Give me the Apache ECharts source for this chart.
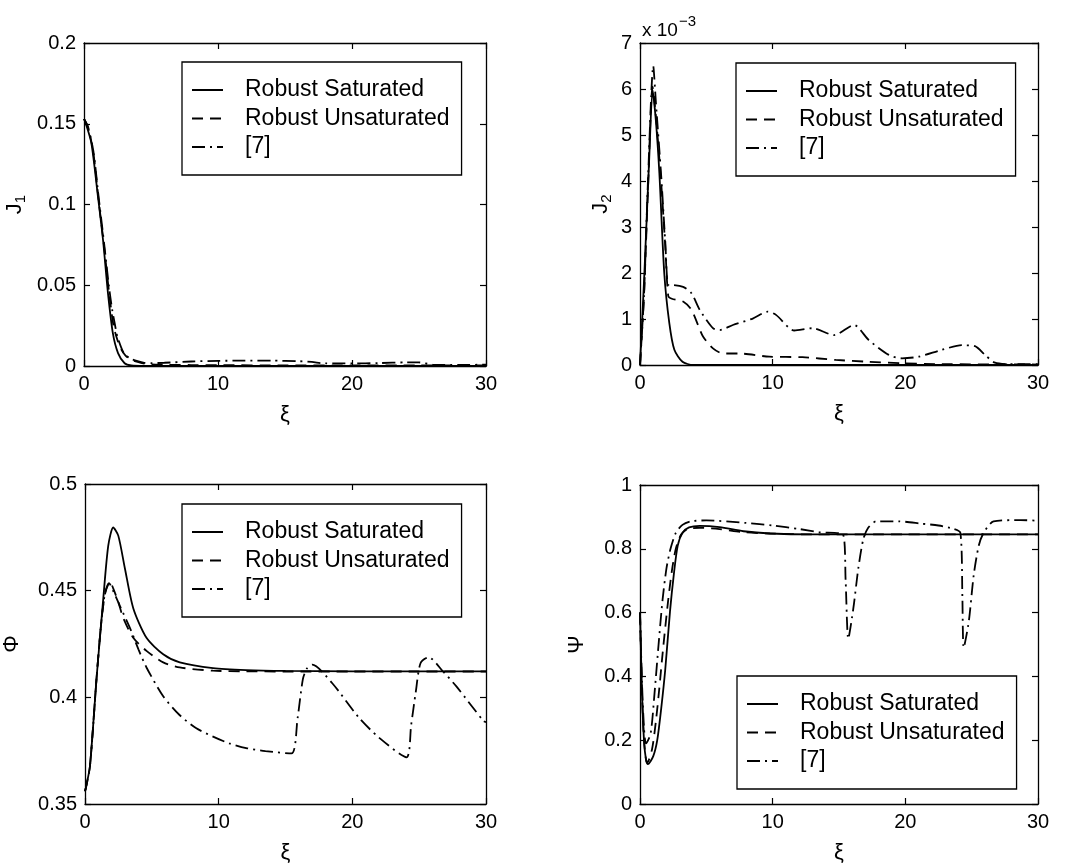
<!DOCTYPE html>
<html>
<head>
<meta charset="utf-8">
<script src="https://cdn.jsdelivr.net/npm/echarts@6/dist/echarts.min.js"></script>
<style>
  html, body { margin: 0; padding: 0; background: #fff; }
  #chart { width: 1067px; height: 865px; }
</style>
</head>
<body>
<div id="chart"></div>
<script>
// ---- series names ----
const seriesNames = ['Robust Saturated', 'Robust Unsaturated', '[7]'];

// ---- axis ticks ----
const xiTicks = [0, 10, 20, 30];
const j1Ticks = [0, 0.05, 0.1, 0.15, 0.2];
const j2Ticks = [0, 1, 2, 3, 4, 5, 6, 7];      // in units of 1e-3
const phiTicks = [0.35, 0.4, 0.45, 0.5];
const psiTicks = [0, 0.2, 0.4, 0.6, 0.8, 1];

// ---- J1 ----
const j1SatX = [0, 0.1, 0.55, 1.04, 1.42, 1.79, 2.16, 2.54, 3.03, 3.53, 4.5, 10, 20, 30];
const j1SatY = [0.153, 0.151, 0.138, 0.105, 0.078, 0.045, 0.020, 0.008, 0.0017, 0.0003, 0, 0, 0, 0];
const j1UnsatX = [0, 0.3, 0.7, 1.1, 1.5, 1.85, 2.2, 2.5, 2.8, 3.1, 3.5, 4.0, 4.5, 5, 6, 8, 10, 15, 20, 25, 30];
const j1UnsatY = [0.153, 0.148, 0.132, 0.102, 0.074, 0.047, 0.025, 0.016, 0.010, 0.0065, 0.004, 0.0025, 0.0015, 0.001, 0.0008, 0.0006, 0.0005, 0.0004, 0.0003, 0.0003, 0.0003];
const j1RefX = [0, 0.3, 0.7, 1.1, 1.5, 1.85, 2.1, 2.3, 2.5, 3.0, 3.5, 4.0, 4.5, 5, 6, 8, 10, 12, 14, 16, 17, 18, 20, 22, 24, 25, 26, 28, 30];
const j1RefY = [0.153, 0.148, 0.133, 0.104, 0.076, 0.050, 0.035, 0.026, 0.018, 0.0075, 0.0045, 0.003, 0.002, 0.0018, 0.002, 0.0028, 0.0032, 0.0033, 0.0033, 0.003, 0.0025, 0.0016, 0.0016, 0.0018, 0.0022, 0.0022, 0.0009, 0.0007, 0.0008];

// ---- J2 (x 1e-3) ----
const j2SatX = [0, 0.33, 0.7, 0.95, 1.2, 1.46, 1.83, 2.21, 2.59, 3.2, 4.0, 10, 20, 30];
const j2SatY = [0, 1.99, 4.53, 5.98, 5.3, 4.17, 1.99, 0.91, 0.33, 0.07, 0, 0, 0, 0];
const j2UnsatX = [0, 0.3, 0.6, 0.95, 1.2, 1.6, 1.9, 2.13, 2.4, 3.25, 3.88, 4.4, 4.75, 5.5, 6.25, 7.5, 9.75, 12.25, 14.75, 17.25, 19.75, 22.25, 30];
const j2UnsatY = [0, 1.5, 3.8, 6.05, 5.4, 3.95, 2.6, 1.5, 1.44, 1.38, 1.2, 0.85, 0.62, 0.36, 0.25, 0.25, 0.18, 0.17, 0.11, 0.07, 0.04, 0.02, 0.01];
const j2RefX = [0, 0.3, 0.6, 1.0, 1.2, 1.6, 1.9, 2.13, 2.4, 3.25, 3.88, 4.5, 5.5, 6.0, 7.0, 8.5, 9.63, 10.25, 11.63, 13.0, 14.63, 16.13, 17.25, 18.75, 19.75, 21.0, 22.75, 24.25, 25.25, 26.0, 26.75, 27.75, 30];
const j2RefY = [0, 1.5, 4.0, 6.5, 5.7, 4.1, 2.7, 1.74, 1.74, 1.70, 1.56, 1.20, 0.80, 0.76, 0.87, 1.01, 1.16, 1.09, 0.75, 0.80, 0.65, 0.87, 0.54, 0.22, 0.145, 0.18, 0.33, 0.43, 0.41, 0.22, 0.05, 0.02, 0.02];

// ---- Phi ----
const phiSatX = [0, 0.07, 0.37, 0.87, 1.37, 1.74, 2.11, 2.49, 2.99, 3.61, 4.6, 5.85, 7.09, 9.58, 12.06, 15, 20, 25, 30];
const phiSatY = [0.356, 0.3577, 0.3677, 0.4094, 0.4465, 0.4711, 0.4796, 0.4758, 0.4603, 0.4418, 0.4279, 0.4202, 0.4164, 0.4137, 0.4128, 0.4124, 0.4122, 0.4122, 0.4122];
const phiUnsatX = [0, 0.07, 0.37, 0.87, 1.2, 1.5, 1.87, 2.11, 2.5, 2.86, 3.61, 4.6, 5.85, 7.09, 9.58, 12, 15, 20, 25, 30];
const phiUnsatY = [0.356, 0.3577, 0.3677, 0.4094, 0.434, 0.4485, 0.4542, 0.4511, 0.4445, 0.4372, 0.4279, 0.4218, 0.4164, 0.414, 0.4125, 0.4122, 0.4121, 0.4121, 0.4121, 0.4121];
const phiRefX = [0, 0.07, 0.37, 0.87, 1.2, 1.5, 1.8, 2.1, 2.6, 3.36, 4.0, 4.6, 5.85, 7.09, 8.3, 9.58, 10.8, 12.06, 13.5, 15.45, 15.9, 16.3, 16.6, 17.0, 18.5, 20.5, 22.0, 24.05, 24.4, 24.75, 25.1, 25.7, 26.8, 27.8, 29.8, 30];
const phiRefY = [0.356, 0.3577, 0.3677, 0.4094, 0.434, 0.449, 0.4535, 0.450, 0.443, 0.4326, 0.4225, 0.414, 0.4005, 0.3916, 0.3856, 0.3816, 0.3784, 0.3762, 0.3748, 0.3737, 0.390, 0.4085, 0.4135, 0.4153, 0.4066, 0.3904, 0.3811, 0.3719, 0.387, 0.4027, 0.416, 0.4188, 0.412, 0.405, 0.389, 0.3884];

// ---- Psi ----
const psiSatX = [0, 0.15, 0.3, 0.45, 0.6, 1.0, 1.3, 1.6, 1.9, 2.26, 2.55, 2.84, 3.2, 3.7, 4.5, 6.0, 7.8, 9.8, 13, 20, 30];
const psiSatY = [0.6, 0.35, 0.2, 0.14, 0.125, 0.15, 0.2, 0.3, 0.42, 0.603, 0.72, 0.809, 0.85, 0.867, 0.872, 0.868, 0.855, 0.848, 0.845, 0.845, 0.845];
const psiUnsatX = [0, 0.15, 0.3, 0.45, 0.55, 0.9, 1.2, 1.45, 1.7, 2.1, 2.4, 2.7, 3.1, 3.6, 4.5, 6.0, 7.8, 9.8, 13, 20, 30];
const psiUnsatY = [0.6, 0.35, 0.2, 0.14, 0.13, 0.17, 0.26, 0.36, 0.47, 0.63, 0.73, 0.8, 0.845, 0.862, 0.866, 0.862, 0.852, 0.848, 0.845, 0.845, 0.845];
const psiRefX = [0, 0.15, 0.3, 0.45, 0.8, 1.1, 1.4, 1.7, 2.0, 2.3, 2.7, 3.2, 3.8, 5, 8, 10, 12, 13.5, 15.3, 15.5, 15.7, 16.08, 16.45, 16.83, 17.2, 17.8, 19.5, 21.2, 22.5, 23.6, 24.15, 24.3, 24.4, 24.78, 25.15, 25.53, 25.9, 26.65, 28.7, 30];
const psiRefY = [0.6, 0.38, 0.24, 0.19, 0.22, 0.35, 0.5, 0.64, 0.74, 0.8, 0.85, 0.875, 0.886, 0.889, 0.881, 0.873, 0.862, 0.852, 0.845, 0.7, 0.518, 0.613, 0.737, 0.83, 0.866, 0.886, 0.886, 0.879, 0.873, 0.863, 0.85, 0.65, 0.49, 0.571, 0.716, 0.809, 0.85, 0.886, 0.89, 0.888];

const FONT = "'Liberation Sans', Arial, Helvetica, sans-serif";
const zip = (xs, ys) => xs.map((x, i) => [x, ys[i]]);

const lineStyles = [
  { type: 'solid', width: 1.8, color: '#000' },
  { type: [11, 7], width: 1.8, color: '#000' },
  { type: [13, 5, 2, 5], width: 1.8, color: '#000' }
];

// plot panels: grid rectangles, y ranges and y-axis names
const panels = [
  { grid: { left: 84, top: 43, width: 402, height: 323 }, ticks: j1Ticks, interval: 0.05,
    yName: '{a|J}{b|1}', yGap: 56,
    data: [zip(j1SatX, j1SatY), zip(j1UnsatX, j1UnsatY), zip(j1RefX, j1RefY)],
    legend: { left: 182, top: 62 } },
  { grid: { left: 640, top: 43, width: 398, height: 322 }, ticks: j2Ticks, interval: 1,
    yName: '{a|J}{b|2}', yGap: 26,
    data: [zip(j2SatX, j2SatY), zip(j2UnsatX, j2UnsatY), zip(j2RefX, j2RefY)],
    legend: { left: 736, top: 63 } },
  { grid: { left: 84, top: 484, width: 402, height: 324 }, ticks: phiTicks, interval: 0.05,
    yName: '{a|Φ}', yGap: 60,
    data: [zip(phiSatX, phiSatY), zip(phiUnsatX, phiUnsatY), zip(phiRefX, phiRefY)],
    legend: { left: 182, top: 504 } },
  { grid: { left: 640, top: 485, width: 398, height: 323 }, ticks: psiTicks, interval: 0.2,
    yName: '{a|Ψ}', yGap: 50,
    data: [zip(psiSatX, psiSatY), zip(psiUnsatX, psiUnsatY), zip(psiRefX, psiRefY)],
    legend: { left: 737, top: 676 } }
];

const axisLine = { show: true, onZero: false, lineStyle: { color: '#000', width: 1.3 } };
const axisTick = { show: true, inside: true, length: 6, lineStyle: { color: '#000', width: 1.2 } };
const tickLabel = { color: '#000', fontSize: 20, fontFamily: FONT, margin: 8 };

const grids = [], xAxes = [], yAxes = [], series = [], legends = [];

panels.forEach((p, i) => {
  grids.push(p.grid);
  const yMin = p.ticks[0], yMax = p.ticks[p.ticks.length - 1];
  // bottom x axis with labels, and a top x axis carrying only ticks
  xAxes.push({
    type: 'value', gridIndex: i, position: 'bottom', min: xiTicks[0], max: xiTicks[xiTicks.length - 1], interval: 10,
    axisLine, axisTick, axisLabel: tickLabel, splitLine: { show: false },
    name: 'ξ', nameLocation: 'middle', nameGap: 38,
    nameTextStyle: { color: '#000', fontSize: 22, fontFamily: FONT }
  });
  yAxes.push({
    type: 'value', gridIndex: i, position: 'left', min: yMin, max: yMax, interval: p.interval,
    axisLine, axisTick, axisLabel: tickLabel, splitLine: { show: false },
    name: p.yName, nameLocation: 'middle', nameGap: p.yGap, nameRotate: 90,
    nameTextStyle: {
      color: '#000', fontFamily: FONT,
      rich: {
        a: { fontSize: 22, color: '#000', fontFamily: FONT, lineHeight: 26 },
        b: { fontSize: 15, color: '#000', fontFamily: FONT, verticalAlign: 'bottom', lineHeight: 26, padding: [10, 0, 0, 0] }
      }
    }
  });
  series.push(...p.data.map((d, k) => ({
    type: 'line', name: seriesNames[k], xAxisIndex: i, yAxisIndex: i,
    data: d, symbol: 'none', smooth: 0.25,
    lineStyle: lineStyles[k], itemStyle: { color: '#000' }, animation: false, silent: true
  })));
  legends.push({
    left: p.legend.left, top: p.legend.top, orient: 'vertical', data: seriesNames,
    itemWidth: 31, itemHeight: 14, itemGap: 4.5, padding: [16, 12, 16, 9],
    borderColor: '#000', borderWidth: 1.3, selectedMode: false,
    itemStyle: { opacity: 0 },
    textStyle: { color: '#000', fontSize: 23, fontFamily: FONT, lineHeight: 24, padding: [0, 0, 0, 17] }
  });
});

// opposite-side axes (ticks only) closing each frame
panels.forEach((p, i) => {
  xAxes.push({
    type: 'value', gridIndex: i, position: 'top', min: 0, max: 30, interval: 10,
    axisLine, axisTick, axisLabel: { show: false }, splitLine: { show: false }
  });
  yAxes.push({
    type: 'value', gridIndex: i, position: 'right', min: p.ticks[0], max: p.ticks[p.ticks.length - 1], interval: p.interval,
    axisLine, axisTick, axisLabel: { show: false }, splitLine: { show: false }
  });
});

const chart = echarts.init(document.getElementById('chart'), null, { renderer: 'canvas' });
chart.setOption({
  backgroundColor: '#fff',
  animation: false,
  grid: grids,
  xAxis: xAxes,
  yAxis: yAxes,
  legend: legends,
  series: series,
  graphic: [{
    type: 'text', left: 642, top: 14,
    style: {
      text: '{a|x 10}{b|−3}',
      rich: {
        a: { fontSize: 19, fontFamily: FONT, fill: '#000', lineHeight: 26, verticalAlign: 'bottom' },
        b: { fontSize: 15, fontFamily: FONT, fill: '#000', lineHeight: 26, verticalAlign: 'top', padding: [0, 0, 0, 1] }
      }
    }
  }]
});
</script>
</body>
</html>
